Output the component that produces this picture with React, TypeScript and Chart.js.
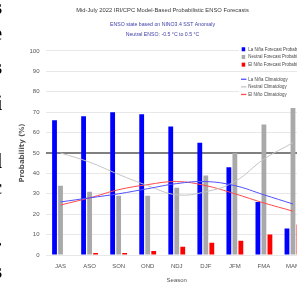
import React, { useEffect, useRef } from 'react';
import { Chart, registerables } from 'chart.js';

Chart.register(...registerables);

const seasons = ['JAS', 'ASO', 'SON', 'OND', 'NDJ', 'DJF', 'JFM', 'FMA', 'MAM'];
const laNinaProb = [66, 68, 70, 69, 63, 55, 43, 26, 13];
const neutralProb = [34, 31, 29, 29, 33, 39, 50, 64, 72];
const elNinoProb = [0, 1, 1, 2, 4, 6, 7, 10, 15];
const laNinaClim = [26, 28, 30, 32.5, 35, 36, 34, 29.5, 25];
const neutralClim = [50, 45.5, 39.5, 34, 29.5, 31, 36, 47, 55];
const elNinoClim = [24.5, 28, 32, 34.5, 36, 34, 30, 25.5, 21.5];
const yTickValues = [0, 10, 20, 30, 40, 50, 60, 70, 80, 90, 100];
const neutralLineValue = 50;

const titleText = 'Mid-July 2022 IRI/CPC Model-Based Probabilistic ENSO Forecasts';
const subtitleLines = ['ENSO state based on NINO3.4 SST Anomaly', 'Neutral ENSO: -0.5 °C to 0.5 °C'];
const barLabels = ['La Niña Forecast Probability', 'Neutral Forecast Probability', 'El Niño Forecast Probability'];
const climLabels = ['La Niña Climatology', 'Neutral Climatology', 'El Niño Climatology'];
const yTitle = 'Probability (%)';
const xTitle = 'Season';

const sideGlyphs = ['s', 'e', 's', 'i', 'l', 'c', '.', 's'];
const sideGlyphTops = [-4, 22, 56, 92, 150, 176, 228, 260];

const SANS = "'Liberation Sans', Arial, sans-serif";

const legendPlugin = {
  id: 'boxLegend',
  afterDraw(chart: any) {
    const { ctx, chartArea } = chart;
    const ds = chart.data.datasets;
    const bx = chartArea.right - 68.5;
    ctx.save();
    ctx.fillStyle = '#ffffff';
    ctx.fillRect(bx, chartArea.top - 6, 80, 24);
    ctx.fillRect(bx, chartArea.top + 24, 80, 24);
    ctx.font = `5.5px ${SANS}`;
    ctx.textBaseline = 'middle';
    ctx.textAlign = 'left';
    const sx = chartArea.right - 65.8;
    const tx = chartArea.right - 59.2;
    const drawLabel = (text: string, y: number) => {
      ctx.save();
      ctx.translate(tx, y);
      ctx.scale(0.8, 1);
      ctx.fillStyle = '#444444';
      ctx.fillText(text, 0, 0);
      ctx.restore();
    };
    for (let i = 0; i < 3; i++) {
      const d = ds[i];
      const y = chartArea.top - 1.7 + i * 7.7;
      ctx.fillStyle = d.backgroundColor;
      ctx.fillRect(sx, y - 2, 3.5, 4);
      drawLabel(d.label, y);
    }
    for (let i = 0; i < 3; i++) {
      const d = ds[3 + i];
      const y = chartArea.top + 28.3 + i * 7.6;
      ctx.strokeStyle = d.borderColor;
      ctx.lineWidth = 1.3;
      ctx.beginPath();
      ctx.moveTo(sx - 0.7, y);
      ctx.lineTo(sx + 4.7, y);
      ctx.stroke();
      drawLabel(d.label, y);
    }
    ctx.restore();
  },
};

export default function App() {
  const ref = useRef<HTMLCanvasElement>(null);

  useEffect(() => {
    const canvas = ref.current;
    if (!canvas) return;
    const chart = new Chart(canvas, {
      type: 'bar',
      data: {
        labels: seasons,
        datasets: [
          { type: 'bar', label: barLabels[0], data: laNinaProb, backgroundColor: '#0000ff', order: 2, categoryPercentage: 0.62, barPercentage: 0.8 },
          { type: 'bar', label: barLabels[1], data: neutralProb, backgroundColor: '#a9a9a9', order: 2, categoryPercentage: 0.62, barPercentage: 0.8 },
          { type: 'bar', label: barLabels[2], data: elNinoProb, backgroundColor: '#ff0000', order: 2, categoryPercentage: 0.62, barPercentage: 0.8 },
          { type: 'line', label: climLabels[0], data: laNinaClim, borderColor: '#5050ff', borderWidth: 1, pointRadius: 0, tension: 0.4, order: 1 },
          { type: 'line', label: climLabels[1], data: neutralClim, borderColor: '#c4c4c4', borderWidth: 1, pointRadius: 0, tension: 0.4, order: 1 },
          { type: 'line', label: climLabels[2], data: elNinoClim, borderColor: '#ff4a4a', borderWidth: 1, pointRadius: 0, tension: 0.4, order: 1 },
        ] as any,
      },
      options: {
        responsive: false,
        devicePixelRatio: 1,
        animation: false,
        layout: { padding: { left: 17.5, right: 2.5, top: 0, bottom: 0 } },
        plugins: {
          legend: { display: false },
          tooltip: { enabled: false },
          title: {
            display: true,
            text: titleText,
            color: '#3a3a3a',
            font: { family: SANS, size: 5.8, weight: 'normal', lineHeight: 1.2 },
            padding: { top: 6.5, bottom: 0 },
          },
          subtitle: {
            display: true,
            text: subtitleLines,
            color: '#3e3ea8',
            font: { family: SANS, size: 5.2, weight: 'normal', lineHeight: '10px' },
            padding: { top: 5.8, bottom: 11.7 },
          },
        },
        scales: {
          x: {
            grid: { display: false, drawTicks: false },
            border: { display: false },
            ticks: { font: { family: SANS, size: 6 }, color: '#555555', padding: 8 },
            title: {
              display: true,
              text: xTitle,
              color: '#555555',
              font: { family: SANS, size: 6 },
              padding: { top: 0, bottom: 3.2 },
            },
            afterFit: (s: any) => { s.height = 32; },
          },
          y: {
            min: 0,
            max: 100,
            afterBuildTicks: (s: any) => { s.ticks = yTickValues.map((v) => ({ value: v })); },
            ticks: { font: { family: SANS, size: 6 }, color: '#555555', padding: 6.5 },
            grid: {
              drawTicks: false,
              color: (c: any) => (c.tick && c.tick.value === neutralLineValue ? '#808080' : '#e8e8e8'),
              lineWidth: (c: any) => (c.tick && c.tick.value === neutralLineValue ? 2 : 1),
            },
            border: { display: false },
            title: {
              display: true,
              text: yTitle,
              color: '#555555',
              font: { family: 'DejaVu Sans', size: 7, weight: 'bold' },
              padding: { top: 0, bottom: 0 },
            },
            afterFit: (s: any) => { s.width = 28.5; },
          },
        },
      },
      plugins: [legendPlugin],
    });
    return () => chart.destroy();
  }, []);

  return (
    <div style={{ position: 'fixed', left: 0, top: 0, width: 297, height: 287, overflow: 'hidden', background: '#ffffff' }}>
      <canvas ref={ref} width={310} height={287} style={{ position: 'absolute', left: 0, top: 0, width: 310, height: 287 }} />
      {sideGlyphs.map((g, i) => (
        <div
          key={i}
          style={{ position: 'absolute', left: -40, top: sideGlyphTops[i], width: 42, textAlign: 'right', font: 'bold 22px serif', color: '#000', lineHeight: '22px' }}
        >
          {g}
        </div>
      ))}
    </div>
  );
}
